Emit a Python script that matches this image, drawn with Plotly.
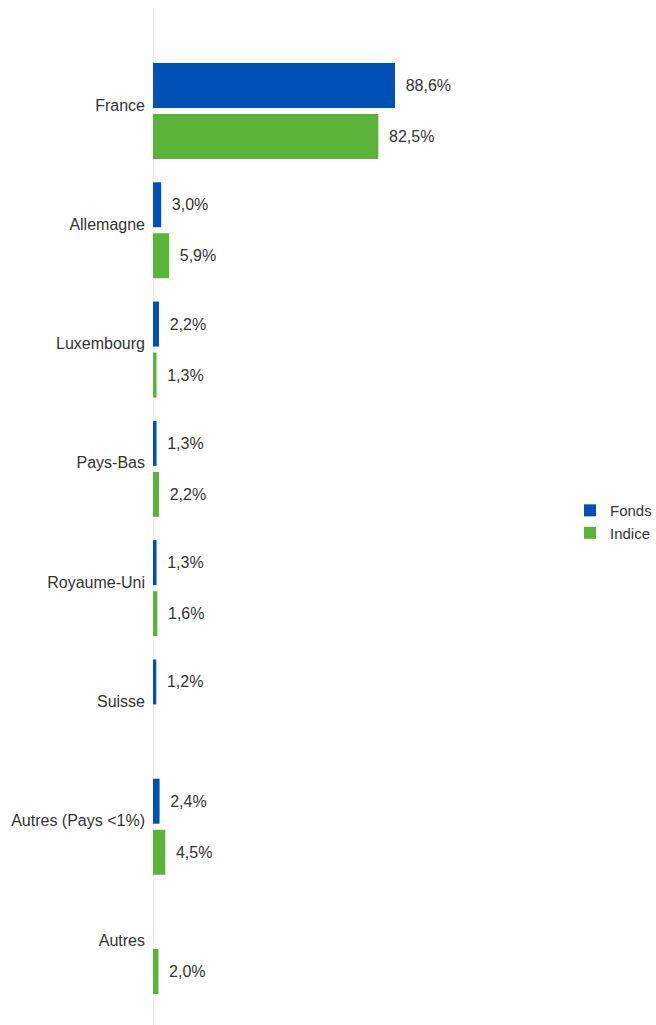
import plotly.graph_objects as go

categories = ["France", "Allemagne", "Luxembourg", "Pays-Bas", "Royaume-Uni",
              "Suisse", "Autres (Pays <1%)", "Autres"]
fonds = [88.6, 3.0, 2.2, 1.3, 1.3, 1.2, 2.4, None]
indice = [82.5, 5.9, 1.3, 2.2, 1.6, None, 4.5, 2.0]

BLUE = "#0050b5"
GREEN = "#5ab43a"
TXT = "#333333"
FONT = "Liberation Sans, Arial, sans-serif"

fig = go.Figure()
fig.add_trace(go.Bar(
    name="Fonds", y=categories, x=fonds, orientation="h",
    marker=dict(color=BLUE, line=dict(width=0)),
    texttemplate="\u00a0\u2009%{x:.1f}%", textposition="outside",
    textfont=dict(family=FONT, size=16, color=TXT), cliponaxis=False,
    hoverinfo="skip",
))
fig.add_trace(go.Bar(
    name="Indice", y=categories, x=indice, orientation="h",
    marker=dict(color=GREEN, line=dict(width=0)),
    texttemplate="\u00a0\u2009%{x:.1f}%", textposition="outside",
    textfont=dict(family=FONT, size=16, color=TXT), cliponaxis=False,
    hoverinfo="skip",
))

fig.update_layout(
    width=656, height=1025,
    margin=dict(l=153, r=96, t=8, b=0, autoexpand=False),
    paper_bgcolor="white", plot_bgcolor="white",
    separators=", ",
    barmode="group", bargap=0.145, bargroupgap=0.118,
    font=dict(family=FONT, size=16, color=TXT),
    showlegend=True,
    legend=dict(x=1.0246, xanchor="left", y=0.495, yanchor="middle",
                font=dict(family=FONT, size=15, color=TXT),
                bgcolor="rgba(0,0,0,0)", borderwidth=0),
)
fig.update_xaxes(range=[0, 149.0], showgrid=False, showticklabels=False,
                 zeroline=True, zerolinecolor="#ebebeb", zerolinewidth=1,
                 showline=False, fixedrange=True)
fig.update_yaxes(categoryorder="array", categoryarray=categories,
                 range=[7.662, -0.863], showgrid=False, showline=False,
                 zeroline=False, ticks="", ticklabelstandoff=7,
                 ticklabelshift=6,
                 tickfont=dict(family=FONT, size=16, color=TXT))

fig.write_html("out.html",
               config={"displayModeBar": False, "staticPlot": True},
               post_script="document.body.style.margin='0';"
                           "document.body.style.overflow='hidden';")
